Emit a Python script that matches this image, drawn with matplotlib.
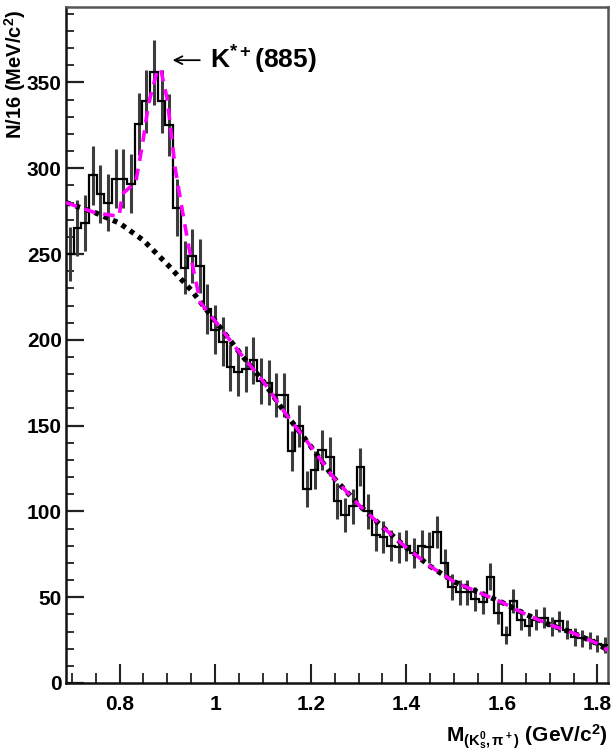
import numpy as np
import matplotlib
matplotlib.use("Agg")
import matplotlib.pyplot as plt
from matplotlib.ticker import MultipleLocator, FixedLocator, FixedFormatter

plt.rcParams["font.family"] = ["Liberation Sans", "DejaVu Sans"]
plt.rcParams["font.weight"] = "bold"
plt.rcParams["mathtext.fontset"] = "custom"
plt.rcParams["mathtext.rm"] = "Liberation Sans:bold"
plt.rcParams["mathtext.bf"] = "Liberation Sans:bold"
plt.rcParams["mathtext.it"] = "Liberation Sans:bold"

# K0s pi+ invariant mass spectrum, 16 MeV bins
bin_start = 0.688
bin_width = 0.016
counts = [250, 265, 268, 296, 285, 280, 294, 294, 291, 326,
          339, 356, 339, 325, 277, 242, 249, 243, 218, 206,
          199, 184, 181, 183, 188, 176, 175, 168, 168, 135,
          150, 113, 124, 136, 132, 106, 98, 103, 126, 100,
          86, 85, 80, 79, 80, 76, 80, 79, 88, 70,
          56, 53, 53, 49, 47, 62, 41, 28, 48, 37,
          33, 37, 38, 33, 36, 31, 27, 26, 25, 23, 22]

# background shape (dotted)
bkg_x = [0.688, 0.75, 0.80, 0.85, 0.90, 0.95, 1.00, 1.05, 1.10, 1.15, 1.20,
         1.25, 1.30, 1.35, 1.40, 1.45, 1.50, 1.55, 1.60, 1.65, 1.70, 1.75,
         1.80, 1.822]
bkg_y = [280, 274, 268, 258, 244, 229, 211, 193, 176, 156, 138,
         119, 104, 91, 79, 68, 59, 53, 47, 40, 34, 29,
         23, 19]

# total fit (background + K* signal) around the peak
fit_peak_x = [0.688, 0.75, 0.799, 0.806, 0.834, 0.848, 0.861, 0.879, 0.886,
              0.900, 0.917, 0.931, 0.945, 0.959, 0.969, 0.994]
fit_peak_y = [280, 274, 272, 285, 292, 314, 338, 357, 358,
              340, 299, 276, 254, 235, 222, 213]

x_ticks = [0.8, 1.0, 1.2, 1.4, 1.6, 1.8]
x_tick_labels = ["0.8", "1", "1.2", "1.4", "1.6", "1.8"]
y_ticks = [0, 50, 100, 150, 200, 250, 300, 350]
y_tick_labels = ["0", "50", "100", "150", "200", "250", "300", "350"]

counts = np.array(counts, dtype=float)
edges = bin_start + bin_width * np.arange(len(counts) + 1)
centers = 0.5 * (edges[:-1] + edges[1:])
errors = np.sqrt(counts)

fit_x = fit_peak_x + [x for x in bkg_x if x > fit_peak_x[-1]]
fit_y = fit_peak_y + [y for x, y in zip(bkg_x, bkg_y) if x > fit_peak_x[-1]]

fig = plt.figure(figsize=(6.15, 7.54), dpi=100)
ax = fig.add_axes([66 / 615, 1 - 683 / 754, (608 - 66) / 615, (683 - 7) / 754])

ax.errorbar(centers, counts, yerr=errors, fmt="none", ecolor="#3c3c3c",
            elinewidth=2.2, capsize=0, zorder=2)
ax.stairs(counts, edges, baseline=None, color="black", lw=1.6, zorder=3)

ax.plot(bkg_x, bkg_y, color="black", lw=3.8, linestyle=(0, (0.9, 1.0)),
        dash_capstyle="butt", zorder=4)
ax.plot(fit_x, fit_y, color="#ff00ff", lw=2.6, linestyle=(0, (3.2, 2.2)),
        zorder=5)

ax.set_xlim(0.688, 1.822)
ax.set_ylim(0, 394)

ax.xaxis.set_major_locator(FixedLocator(x_ticks))
ax.xaxis.set_major_formatter(FixedFormatter(x_tick_labels))
ax.xaxis.set_minor_locator(MultipleLocator(0.05))
ax.yaxis.set_major_locator(FixedLocator(y_ticks))
ax.yaxis.set_major_formatter(FixedFormatter(y_tick_labels))
ax.yaxis.set_minor_locator(MultipleLocator(10))

ax.tick_params(axis="both", which="both", direction="in", top=False,
               right=False, color="#222222")
ax.tick_params(axis="x", which="major", length=14, width=1.5, pad=9,
               labelsize=15)
ax.tick_params(axis="x", which="minor", length=7, width=1.3)
ax.tick_params(axis="y", which="major", length=13, width=1.6, pad=3,
               labelsize=15)
ax.tick_params(axis="y", which="minor", length=6, width=1.3)
for lab in ax.get_xticklabels() + ax.get_yticklabels():
    lab.set_fontweight("bold")

for side in ["left", "bottom"]:
    ax.spines[side].set_linewidth(1.8)
    ax.spines[side].set_color("#111111")
for side in ["top", "right"]:
    ax.spines[side].set_linewidth(1.8)
    ax.spines[side].set_color("#555555")

ax.annotate("", xy=(0.911, 363), xytext=(0.968, 363),
            arrowprops=dict(arrowstyle="->", lw=1.3, color="black",
                            shrinkA=0, shrinkB=0, mutation_scale=14))
ax.text(0.99, 363, r"K$^{*+}$(885)", fontsize=19, fontweight="bold",
        ha="left", va="center")

fig.text(608 / 615, 1 - 737 / 754,
         r"M$_{(\mathrm{K}^0_s,\pi^+)}$ (GeV/c$^2$)", fontsize=15,
         fontweight="bold", ha="right", va="center")
fig.text(15 / 615, 1 - 10 / 754, r"N/16 (MeV/c$^2$)", fontsize=14.5,
         fontweight="bold", rotation=90, ha="center", va="top")

fig.savefig("out.png", dpi=100)
